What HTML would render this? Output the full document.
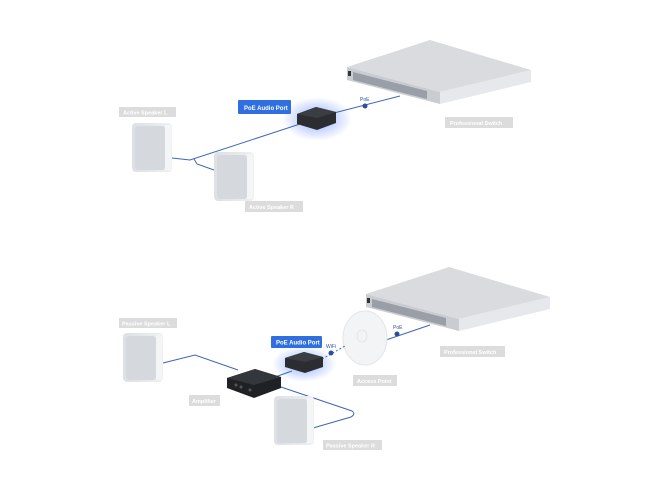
<!DOCTYPE html>
<html><head><style>
html,body{margin:0;padding:0;background:#fff;}
svg{display:block;}
text{font-family:"Liberation Sans",sans-serif;font-size:6px;font-weight:bold;}
</style></head><body>
<svg width="650" height="489" viewBox="0 0 650 489" xmlns="http://www.w3.org/2000/svg">
<defs>
<radialGradient id="glow" cx="50%" cy="50%" r="50%">
<stop offset="0" stop-color="#3a6cff" stop-opacity="0.55"/>
<stop offset="1" stop-color="#3a6cff" stop-opacity="0"/>
</radialGradient>
<linearGradient id="spk" x1="0" x2="1">
<stop offset="0" stop-color="#dde0e4"/><stop offset="1" stop-color="#eef0f2"/>
</linearGradient>
<g id="switch">
<polygon points="0,0 83,-27 184,3 93,25" fill="#d9dbdf"/>
<polygon points="0,0 93,25 93,37 0,13" fill="#c9ccd1"/>
<polygon points="93,25 184,3 184,15 93,37" fill="#e6e8eb"/>
<polygon points="6,5 80,24 80,32 6,13" fill="#9a9ea6"/>
<rect x="1" y="4" width="3" height="5" fill="#333"/>
</g>
<g id="spkr">
<rect x="0" y="0" width="40" height="49" rx="4" fill="url(#spk)"/>
<rect x="3" y="3" width="30" height="44" rx="3" fill="#d5d8dc"/>
<rect x="33" y="2" width="6" height="45" fill="#f4f5f6"/>
</g>
</defs>

<!-- TOP DIAGRAM -->
<use href="#switch" x="347" y="67"/>
<polyline points="172,158 190,160 300,124" fill="none" stroke="#3d66b8" stroke-width="1"/>
<polyline points="194,159 197,164 214,170" fill="none" stroke="#3d66b8" stroke-width="1"/>
<line x1="334" y1="113" x2="400" y2="96" stroke="#3d66b8" stroke-width="1"/>
<circle cx="365" cy="106" r="2.5" fill="#2c4f9c"/>
<text x="360" y="101" fill="#2c4f9c" style="font-weight:normal;font-size:5px">PoE</text>
<ellipse cx="317" cy="119" rx="35" ry="22" fill="url(#glow)"/>
<polygon points="297,114 316,107 336,112 336,123 317,130 297,124" fill="#2b2d31"/>
<polygon points="297,114 316,107 336,112 317,118" fill="#3a3d42"/>
<use href="#spkr" x="132" y="123"/>
<use href="#spkr" x="214" y="152"/>
<rect x="238" y="100" width="53" height="14" rx="1" fill="#2f6fe0"/>
<text x="244" y="110" fill="#fff">PoE Audio Port</text>
<rect x="119" y="107" width="57" height="10" fill="#dcdcdc"/>
<text x="123" y="114.5" fill="#fff" style="font-size:5.5px">Active Speaker L</text>
<rect x="245" y="201" width="58" height="11" fill="#dcdcdc"/>
<text x="249" y="209" fill="#fff" style="font-size:5.5px">Active Speaker R</text>
<rect x="445" y="117" width="68" height="11" fill="#dcdcdc"/>
<text x="450" y="125" fill="#fff" style="font-size:5.5px">Professional Switch</text>

<!-- BOTTOM DIAGRAM -->
<use href="#switch" x="366" y="294"/>
<line x1="383" y1="341" x2="430" y2="325" stroke="#3d66b8" stroke-width="1"/>
<circle cx="397" cy="334" r="2.5" fill="#2c4f9c"/>
<text x="393" y="329" fill="#2c4f9c" style="font-weight:normal;font-size:5px">PoE</text>
<ellipse cx="365" cy="338" rx="22" ry="27" fill="#f3f4f6" stroke="#e3e5e8" stroke-width="1"/>
<ellipse cx="362" cy="336" rx="5" ry="6" fill="none" stroke="#e0e2e5" stroke-width="0.8"/>
<line x1="322" y1="359" x2="345" y2="346" stroke="#3d66b8" stroke-width="1" stroke-dasharray="2,2"/>
<circle cx="331" cy="353" r="2.5" fill="#2c4f9c"/>
<text x="326" y="348" fill="#2c4f9c" style="font-weight:normal;font-size:5px">WiFi</text>
<polyline points="163,363 195,355 238,370" fill="none" stroke="#3d66b8" stroke-width="1"/>
<line x1="275" y1="377" x2="292" y2="371" stroke="#3d66b8" stroke-width="1"/>
<path d="M278,386 L352,411 Q356,414 351,417 L313,428" fill="none" stroke="#3d66b8" stroke-width="1"/>
<ellipse cx="304" cy="364" rx="32" ry="18" fill="url(#glow)"/>
<polygon points="285,358 304,352 323,357 323,367 305,373 285,367" fill="#2b2d31"/>
<polygon points="285,358 304,352 323,357 305,362" fill="#3a3d42"/>
<polygon points="227,378 255,369 281,377 281,388 254,398 227,388" fill="#1f2124"/>
<polygon points="227,378 255,369 281,377 254,385" fill="#33363a"/>
<circle cx="236" cy="385" r="1.5" fill="#555"/><circle cx="241" cy="387" r="1.5" fill="#555"/><circle cx="250" cy="390" r="1.5" fill="#555"/>
<use href="#spkr" x="123" y="333"/>
<use href="#spkr" x="274" y="396"/>
<rect x="271" y="336" width="51" height="12" rx="1" fill="#2f6fe0"/>
<text x="276" y="344.5" fill="#fff">PoE Audio Port</text>
<rect x="119" y="318" width="58" height="10" fill="#dcdcdc"/>
<text x="122" y="325.5" fill="#fff" style="font-size:5.5px">Passive Speaker L</text>
<rect x="189" y="395" width="31" height="11" fill="#dcdcdc"/>
<text x="192" y="403" fill="#fff" style="font-size:5.5px">Amplifier</text>
<rect x="323" y="440" width="59" height="10" fill="#dcdcdc"/>
<text x="326" y="447.5" fill="#fff" style="font-size:5.5px">Passive Speaker R</text>
<rect x="353" y="375" width="44" height="11" fill="#dcdcdc"/>
<text x="357" y="383" fill="#fff" style="font-size:5.5px">Access Point</text>
<rect x="440" y="346" width="65" height="11" fill="#dcdcdc"/>
<text x="444" y="354" fill="#fff" style="font-size:5.5px">Professional Switch</text>
</svg>
</body></html>
